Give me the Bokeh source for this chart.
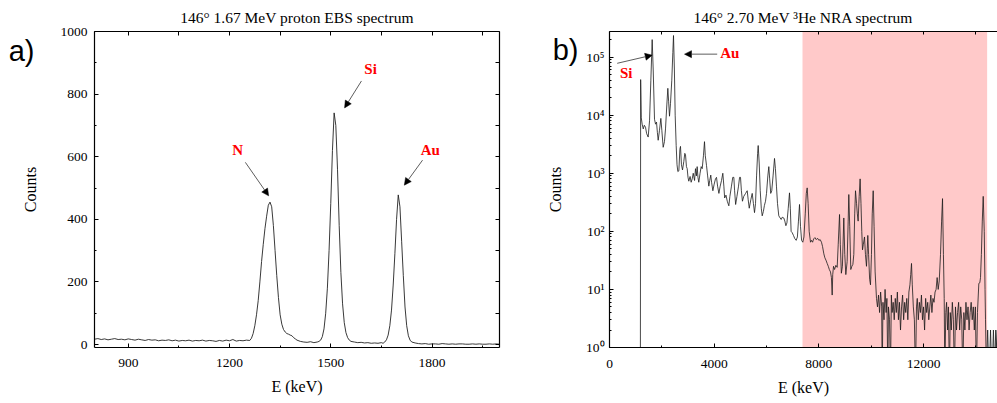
from bokeh.plotting import figure
from bokeh.models import (Range1d, LinearAxis, LogAxis, SingleIntervalTicker, FixedTicker,
                          CustomJSTickFormatter, Label, Arrow, NormalHead, BoxAnnotation)
from bokeh.layouts import row
from bokeh.embed import file_html
from bokeh.resources import INLINE
import numpy as np

SERIF = "Liberation Serif"
SANS = "Liberation Sans"

# ---------------- panel a) : 146° 1.67 MeV proton EBS spectrum ----------------
ebs_energy = [800, 810, 820, 830, 840, 850, 860, 870, 880, 890, 900, 910, 920, 930, 940, 950,
              960, 970, 980, 990, 1000, 1010, 1020, 1030, 1040, 1050, 1060, 1070, 1080, 1090,
              1100, 1110, 1120, 1130, 1140, 1150, 1160, 1170, 1180, 1190, 1200, 1210, 1220,
              1230, 1240, 1250, 1260,
              1265, 1270, 1275, 1280, 1285, 1290, 1295, 1300, 1305, 1310, 1315, 1320, 1325,
              1330, 1335, 1340, 1345, 1350, 1355, 1360, 1365, 1370, 1375, 1380, 1385, 1390,
              1395, 1400, 1410, 1420, 1430, 1440, 1450, 1460, 1465,
              1470, 1475, 1480, 1485, 1490, 1495, 1500, 1505, 1510, 1515, 1520, 1525, 1530,
              1535, 1540, 1545, 1550, 1555, 1560, 1570, 1580, 1590, 1600, 1610, 1620, 1630,
              1640, 1650, 1655, 1660,
              1665, 1670, 1675, 1680, 1685, 1690, 1695, 1700, 1705, 1710, 1715, 1720, 1725,
              1730, 1735, 1740, 1750, 1760, 1770, 1780, 1790, 1800, 1810, 1820, 1830, 1840,
              1850, 1860, 1870, 1880, 1890, 1900, 1910, 1920, 1930, 1940, 1950, 1960, 1970,
              1980, 1990, 2000]
ebs_counts = [17, 19, 16, 18, 15, 17, 19, 16, 17, 15, 18, 16, 14, 17, 15, 13,
              16, 14, 15, 12, 14, 13, 15, 12, 14, 11, 13, 12, 14, 11,
              13, 12, 14, 11, 13, 12, 10, 13, 11, 14, 12, 16, 11,
              13, 12, 14, 13,
              20, 35, 60, 95, 140, 200, 265, 320, 370, 410, 445, 455, 440,
              380, 300, 220, 150, 95, 65, 48, 40, 35, 33, 30, 28, 22,
              18, 14, 10, 8, 7, 9, 6, 8, 10,
              14, 25, 50, 100, 180, 300, 450, 620, 740, 700, 560, 380, 230,
              130, 70, 38, 22, 14, 10, 8, 6, 7, 5, 6, 4, 5,
              4, 6, 4, 8,
              15, 30, 60, 110, 190, 290, 400, 478, 440, 330, 220, 120, 60,
              28, 14, 8, 5, 3, 2, 3, 1, 2, 2, 1, 3, 2,
              1, 2, 1, 2, 2, 1, 1, 2, 1, 2, 1, 1, 2,
              1, 2, 1]

# ---------------- panel b) : 146° 2.70 MeV 3He NRA spectrum ----------------
nra_energy = [1180, 1190, 1215, 1248, 1290, 1330, 1376, 1420, 1478, 1530, 1580, 1631, 1670,
              1720, 1760, 1796, 1830, 1860, 1910, 1962, 2000, 2051, 2100, 2140, 2190, 2229,
              2260, 2293, 2331, 2380, 2420, 2446, 2480, 2510, 2548, 2580, 2611, 2650, 2690,
              2713, 2750, 2790, 2840, 2877, 2904, 2940, 2968, 3000, 3030, 3080, 3120, 3160,
              3200, 3250, 3286, 3320, 3350, 3380, 3412, 3460, 3504, 3542, 3590, 3630, 3660,
              3706, 3750, 3795, 3830, 3870, 3900, 3950, 4000, 4050, 4089, 4130, 4180, 4230,
              4280, 4330, 4370, 4400, 4450, 4500, 4560, 4600, 4660, 4710, 4751, 4780, 4820,
              4870, 4930, 4970, 5006, 5040, 5080, 5130, 5200, 5262, 5300, 5340, 5400, 5453,
              5500, 5541, 5580, 5620, 5660, 5682, 5720, 5760, 5800, 5835, 5880, 5920, 5961,
              6000, 6050, 6088, 6120, 6160, 6200, 6250, 6305, 6340, 6380, 6420, 6469, 6520,
              6560, 6600, 6660, 6700, 6740, 6780, 6830, 6878, 6910, 6940, 6980, 7030, 7080,
              7134, 7180, 7220, 7261, 7300, 7340, 7386, 7430, 7480, 7520, 7554, 7590, 7630,
              7681, 7720, 7760, 7800, 7850, 7900, 7950, 8000, 8050, 8100, 8140, 8190, 8230,
              8270, 8318, 8360, 8400, 8445, 8480, 8509, 8530, 8560, 8600, 8650, 8700, 8740,
              8790, 8820, 8860, 8900, 8953, 8990, 9030, 9080, 9120, 9144, 9180, 9220, 9260,
              9300, 9335, 9370, 9400, 9440, 9470, 9501, 9540, 9577, 9610, 9640, 9668, 9700,
              9744, 9780, 9820, 9850, 9870, 9900, 9940, 9973, 10010, 10040, 10076, 10110,
              10150, 10202, 10240, 10280, 10320, 10360, 10400, 10420, 10450, 10490, 10530,
              10570, 10600, 10635, 10660, 10700, 10737, 10770, 10800, 10840, 10880, 10920,
              10960, 11000, 11040, 11080, 11120, 11160, 11200, 11240, 11280, 11320, 11360,
              11400, 11440, 11480, 11510, 11540, 11570, 11610, 11650, 11693, 11730, 11760,
              11800, 11840, 11880, 11920, 11960, 12000, 12040, 12080, 12120, 12160, 12200,
              12240, 12280, 12320, 12360, 12400, 12440, 12480, 12520, 12560, 12600, 12648,
              12690, 12725, 12760, 12790, 12813, 12850, 12880, 12920, 12950, 12990, 13020,
              13060, 13100, 13140, 13180, 13220, 13260, 13300, 13340, 13380, 13420, 13460,
              13500, 13540, 13580, 13620, 13660, 13700, 13740, 13780, 13820, 13860, 13900,
              13940, 13980, 14020, 14060, 14113, 14150, 14177, 14210, 14245, 14280, 14320,
              14350, 14368, 14406, 14430, 14450, 14470, 14540, 14560, 14580, 14650, 14670,
              14690, 14740, 14760, 14780, 14820]
nra_counts = [0, 41000, 9000, 7000, 5800, 6700, 6200, 4800, 4200, 8000, 40000, 200000, 60000,
              8500, 7000, 7600, 5000, 3700, 5500, 8800, 5500, 2800, 3500, 5800, 15000, 29000,
              17000, 9600, 16000, 40000, 120000, 235000, 60000, 10000, 3000, 1400, 1070, 1100, 2600,
              2900, 1400, 1140, 1600, 2200, 2100, 1300, 1200, 850, 730, 880, 700, 800,
              1000, 750, 1200, 900, 1300, 850, 700, 1000, 1300, 1200, 2000, 3500, 2000,
              1370, 900, 600, 750, 930, 700, 500, 650, 800, 850, 600, 450, 600,
              750, 1000, 600, 375, 420, 330, 275, 400, 600, 850, 850, 500, 290,
              400, 600, 850, 850, 500, 330, 400, 450, 500, 350, 250, 350, 450,
              300, 210, 300, 900, 2200, 3000, 1500, 500, 250, 185, 220, 280, 330,
              450, 900, 1300, 800, 450, 500, 900, 1800, 1200, 600, 300, 185, 170,
              160, 175, 170, 150, 125, 140, 250, 460, 250, 100, 95, 85, 75,
              70, 80, 150, 290, 120, 70, 65, 80, 200, 450, 560, 300, 100,
              65, 70, 65, 74, 78, 72, 76, 70, 72, 65, 55, 41, 35,
              32, 28, 25, 22, 20, 16, 8, 18, 25, 22, 26, 24, 60,
              195, 60, 19, 25, 170, 40, 18, 30, 150, 430, 120, 22, 25,
              27, 40, 200, 500, 300, 200, 150, 400, 800, 300, 100, 48, 60,
              80, 40, 25, 50, 85, 40, 15, 12, 40, 200, 500, 120,
              20, 7, 5, 8, 4, 9, 5, 0, 6, 3, 10,
              4, 7, 0, 5, 3, 0, 8, 4, 6, 3, 7,
              4, 9, 3, 6, 2, 5, 8, 3, 6, 4, 7,
              3, 9, 12, 18, 28, 12, 5, 3, 0, 5, 7,
              3, 6, 4, 8, 3, 5, 2, 7, 4, 6, 3,
              5, 8, 4, 7, 6, 9, 10, 16, 10, 14, 40,
              150, 366, 40, 7, 0, 4, 6, 2, 5, 0, 4,
              2, 6, 3, 0, 5, 2, 4, 6, 2, 5, 3,
              0, 4, 2, 6, 3, 5, 2, 4, 6, 3, 5,
              2, 5, 0, 4, 12.7, 13, 16, 40, 150, 400, 100,
              10, 3, 0, 1, 2, 1, 1, 2, 1, 1, 2,
              1, 1, 2, 1, 2]

# annotation anchors (data units)
a_labels = [("N", 1224, 623), ("Si", 1618, 880), ("Au", 1795, 623)]
a_arrows = [(1247, 582, 1316, 475), (1591, 842, 1541, 756), (1772, 589, 1718, 509)]
b_labels = [("Si", 638, 54200), ("Au", 4597, 115600)]
b_arrows = [(294, 78200, 1632, 108000), (4115, 112400, 2866, 112400)]
b_region = (7375, 14430)
letter_a_y = 939
letter_b_y = 131600

title_a = "146° 1.67 MeV proton EBS spectrum"
title_b = "146° 2.70 MeV ³He NRA spectrum"


def style_axis(ax, labels=True):
    ax.axis_line_color = "black"
    ax.axis_line_width = 1.2
    ax.major_tick_in = 4
    ax.major_tick_out = 0
    ax.minor_tick_in = 2
    ax.minor_tick_out = 0
    ax.major_tick_line_color = "black"
    ax.minor_tick_line_color = "black"
    ax.major_label_text_font = SERIF
    ax.major_label_text_font_size = "13.5px"
    ax.major_label_text_color = "black"
    ax.axis_label_text_font = SERIF
    ax.axis_label_text_font_size = "16px"
    ax.axis_label_text_font_style = "normal"
    ax.axis_label_text_color = "black"
    if not labels:
        ax.formatter = CustomJSTickFormatter(code="return '';")
        ax.major_label_standoff = 0
        ax.major_label_text_font_size = "0px"


def letter_axis(ax, letter, standoff, label_standoff):
    """outer left axis: carries the panel letter (as its only tick label) and 'Counts'."""
    ax.formatter = CustomJSTickFormatter(code="return '%s';" % letter)
    ax.axis_line_color = None
    ax.major_tick_line_color = None
    ax.minor_tick_line_color = None
    ax.major_tick_in = 0
    ax.major_tick_out = 0
    ax.major_label_text_font = SANS
    ax.major_label_text_font_size = "29px"
    ax.major_label_text_color = "black"
    ax.major_label_standoff = standoff
    ax.axis_label = "Counts"
    ax.axis_label_text_font = SERIF
    ax.axis_label_text_font_size = "16px"
    ax.axis_label_text_font_style = "normal"
    ax.axis_label_text_color = "black"
    ax.axis_label_standoff = label_standoff


def base_fig(**kw):
    p = figure(output_backend="svg", toolbar_location=None, **kw)
    p.grid.visible = False
    p.outline_line_color = None
    p.background_fill_color = "white"
    p.border_fill_color = "white"
    return p


def style_title(p, text, standoff):
    p.title.text = text
    p.title.text_font = SERIF
    p.title.text_font_size = "15.5px"
    p.title.text_font_style = "normal"
    p.title.text_color = "black"
    p.title.align = "center"
    p.title.standoff = standoff


# ---------------- figure a ----------------
pa = base_fig(width=540, height=403, x_range=Range1d(800, 2000), y_range=Range1d(-9.5, 1000),
              min_border_left=94, min_border_right=41, min_border_top=28, min_border_bottom=56)
style_title(pa, title_a, 11)
pa.xaxis.ticker = SingleIntervalTicker(interval=300, num_minor_ticks=2)
pa.yaxis.ticker = SingleIntervalTicker(interval=200, num_minor_ticks=2)
pa.xaxis.axis_label = "E (keV)"
for ax in pa.xaxis + pa.yaxis:
    style_axis(ax)
pa.xaxis.major_label_standoff = 11
pa.xaxis.axis_label_standoff = 8
pa.yaxis.major_label_standoff = 7
top_a = LinearAxis(ticker=SingleIntervalTicker(interval=150, num_minor_ticks=0))
right_a = LinearAxis(ticker=SingleIntervalTicker(interval=100, num_minor_ticks=0))
style_axis(top_a, labels=False)
style_axis(right_a, labels=False)
pa.add_layout(top_a, "above")
pa.add_layout(right_a, "right")
let_a = LinearAxis(ticker=FixedTicker(ticks=[letter_a_y], minor_ticks=[]))
letter_axis(let_a, "a)", 23, -33)
pa.add_layout(let_a, "left")

pa.line(x=ebs_energy, y=ebs_counts, line_color="#222222", line_width=0.9)

for txt, x, y in a_labels:
    pa.add_layout(Label(x=x, y=y, text=txt, text_font=SERIF, text_font_size="15px",
                        text_font_style="bold", text_color="#ff0000",
                        text_align="center", text_baseline="middle"))
for x0, y0, x1, y1 in a_arrows:
    pa.add_layout(Arrow(x_start=x0, y_start=y0, x_end=x1, y_end=y1, line_width=0.8,
                        line_color="#333333",
                        end=NormalHead(size=7, fill_color="black", line_color="black",
                                       line_width=0.5)))

# ---------------- figure b ----------------
FRAME_H_B = 321
y_top_b = 10 ** (FRAME_H_B / 59.0)
pb = base_fig(width=457, height=403, x_range=Range1d(0, 14826), y_range=Range1d(1, y_top_b),
              y_axis_type="log",
              min_border_left=69, min_border_right=0, min_border_top=31, min_border_bottom=51)
style_title(pb, title_b, 12)
pb.xaxis.ticker = SingleIntervalTicker(interval=4000, num_minor_ticks=2)
decades = [1, 10, 100, 1000, 10000, 100000]
minor_log = [m * d for d in decades for m in range(2, 10)]
pb.yaxis.ticker = FixedTicker(ticks=decades, minor_ticks=minor_log)
sup_fmt = CustomJSTickFormatter(code="""
const sup = ['\u2070','\u00b9','\u00b2','\u00b3','\u2074','\u2075','\u2076'];
const e = Math.round(Math.log10(tick));
return '10' + sup[e];
""")
pb.xaxis.axis_label = "E (keV)"
for ax in pb.xaxis + pb.yaxis:
    style_axis(ax)
pb.yaxis.formatter = sup_fmt
pb.xaxis.major_label_standoff = 12
pb.xaxis.axis_label_standoff = 8
pb.yaxis.major_label_standoff = 5
top_b = LinearAxis(ticker=SingleIntervalTicker(interval=2000, num_minor_ticks=0))
style_axis(top_b, labels=False)
top_b.major_tick_in = 3
pb.add_layout(top_b, "above")
let_b = LogAxis(ticker=FixedTicker(ticks=[letter_b_y], minor_ticks=[]))
letter_axis(let_b, "b)", 4, -14)
pb.add_layout(let_b, "left")

x0, x1 = b_region
pb.add_layout(BoxAnnotation(left=x0, right=x1, fill_color="#ffc9c9", fill_alpha=1.0,
                            line_color=None, level="underlay"))

nra_plot = np.where(np.array(nra_counts, dtype=float) > 0, nra_counts, 0.3)
pb.line(x=nra_energy, y=nra_plot, line_color="#1a1a1a", line_width=0.8)

for txt, x, y in b_labels:
    pb.add_layout(Label(x=x, y=y, text=txt, text_font=SERIF, text_font_size="15px",
                        text_font_style="bold", text_color="#ff0000",
                        text_align="center", text_baseline="middle"))
for xs, ys, xe, ye in b_arrows:
    pb.add_layout(Arrow(x_start=xs, y_start=ys, x_end=xe, y_end=ye, line_width=0.8,
                        line_color="#333333",
                        end=NormalHead(size=7, fill_color="black", line_color="black",
                                       line_width=0.5)))

layout = row(pa, pb)
open("out.html", "w").write(file_html(layout, INLINE))
